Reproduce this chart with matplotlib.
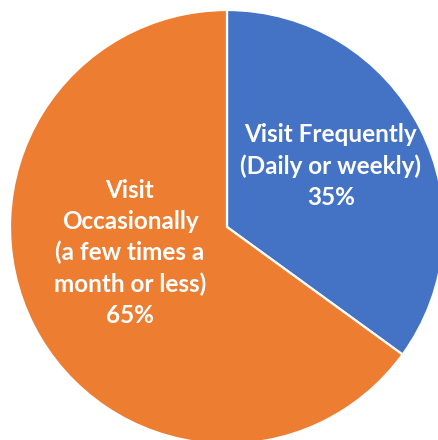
import matplotlib.pyplot as plt

# data
categories = ["Visit Frequently\n(Daily or weekly)", "Visit\nOccasionally\n(a few times a\nmonth or less)"]
shares = [35, 65]
colors = ["#4472C4", "#ED7D31"]

# label anchor points (data coords, pie radius = 1)
label_pos = [(0.479, 0.28), (-0.447, -0.12)]

plt.rcParams['font.family'] = ['Lato', 'DejaVu Sans']

fig = plt.figure(figsize=(4.39, 4.40), dpi=100)
ax = fig.add_axes([0, 0, 1, 1])

wedges, _ = ax.pie(shares, colors=colors, startangle=90, counterclock=False,
                   radius=1.0, wedgeprops=dict(edgecolor="white", linewidth=1.6))

for cat, val, (x, y) in zip(categories, shares, label_pos):
    ax.text(x, y, f"{cat}\n{val}%", ha="center", va="center", color="white",
            fontsize=17.5, fontweight="bold", linespacing=1.42)

# pie centre at pixel (227, 227), radius 217 px
ax.set_xlim(-227 / 217, (439 - 227) / 217)
ax.set_ylim(-(440 - 227) / 217, 227 / 217)
ax.set_aspect("auto")
ax.axis("off")

fig.savefig("out.png", dpi=100)
